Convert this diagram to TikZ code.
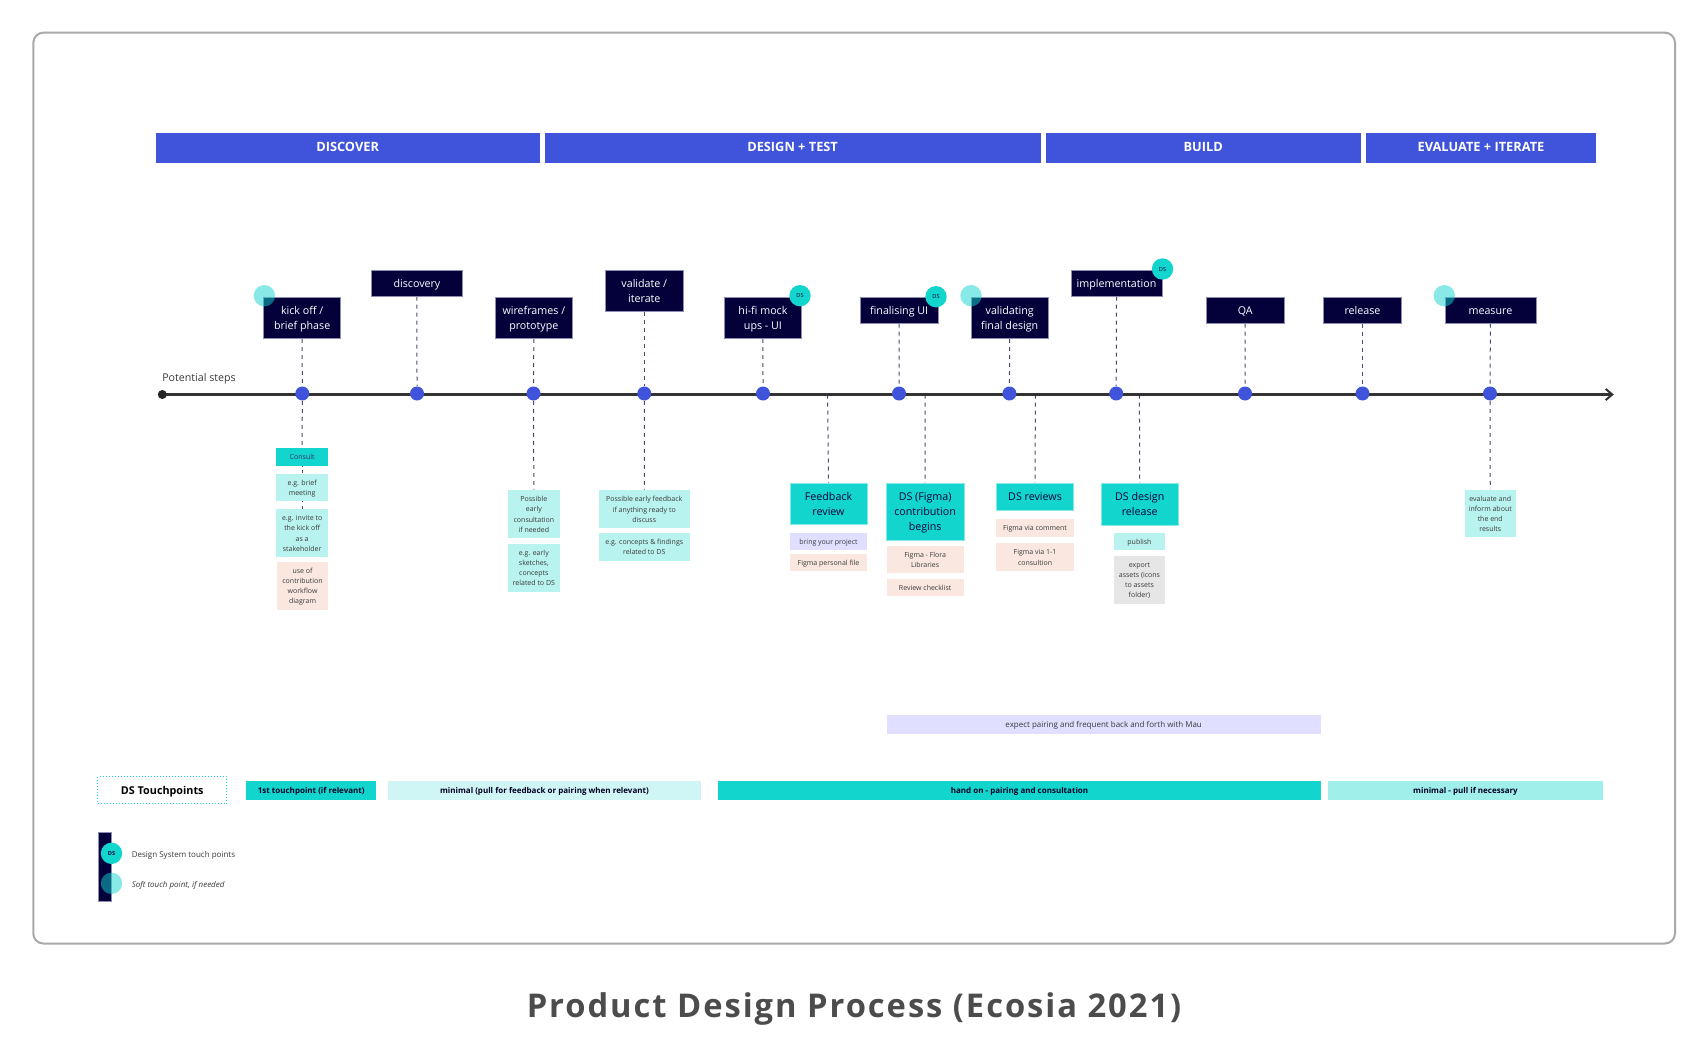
\documentclass[tikz,border=0pt]{standalone}
\usepackage{fontspec}
\setmainfont{Open Sans}
\newfontfamily\ttlfont[LetterSpace=6]{Open Sans}
\usetikzlibrary{arrows.meta}
\pgfdeclarelayer{under}
\pgfsetlayers{under,main}
\definecolor{navy}{HTML}{04003A}
\definecolor{navyedge}{HTML}{8F8DB5}
\definecolor{royal}{HTML}{4054DB}
\definecolor{teal}{HTML}{12D5CE}
\definecolor{mint}{HTML}{B8F3EF}
\definecolor{peach}{HTML}{FAE8E0}
\definecolor{lav}{HTML}{E0DFFF}
\definecolor{greybox}{HTML}{E6E6E6}
\definecolor{paleteal}{HTML}{CFF6F4}
\definecolor{midteal}{HTML}{A0EFEB}
\definecolor{framegrey}{HTML}{A9A9A9}
\definecolor{inktext}{HTML}{3A3A3A}
\definecolor{dashcol}{HTML}{4A4A70}
\tikzset{
  basebox/.style={inner sep=0pt,anchor=center},
  header/.style={basebox,fill=royal,text=white,font=\fontsize{6.4pt}{7.5pt}\selectfont\bfseries},
  stepbox/.style={basebox,fill=navy,draw=navyedge,line width=0.3pt,text=white,font=\fontsize{5.35pt}{7.6pt}\selectfont},
  bigteal/.style={basebox,fill=teal,draw=teal!50,line width=0.3pt,text=navy,font=\fontsize{5.35pt}{7.6pt}\selectfont},
  smallteal/.style={basebox,fill=teal,text=navy!80,font=\fontsize{3.5pt}{5.1pt}\selectfont},
  mintbox/.style={basebox,fill=mint,text=inktext,font=\fontsize{3.5pt}{5.1pt}\selectfont},
  peachbox/.style={basebox,fill=peach,text=inktext,font=\fontsize{3.5pt}{5.1pt}\selectfont},
  lavbox/.style={basebox,fill=lav,text=inktext,font=\fontsize{3.5pt}{5.1pt}\selectfont},
  greyb/.style={basebox,fill=greybox,text=inktext,font=\fontsize{3.5pt}{5.1pt}\selectfont},
  rowbold/.style={basebox,text=navy!60!black,font=\fontsize{4pt}{5pt}\selectfont\bfseries},
  frameb/.style={basebox,draw=framegrey,line width=1pt,rounded corners=5pt},
  tplabel/.style={basebox,draw=teal,densely dotted,line width=0.5pt,text=black,font=\fontsize{5.4pt}{6pt}\selectfont\bfseries},
  stopdot/.style={circle,fill=royal,inner sep=0pt,minimum size=7pt},
  softdot/.style={circle,fill=teal,fill opacity=0.5,inner sep=0pt,minimum size=10.7pt},
  dsdot/.style={circle,fill=teal,inner sep=0pt,minimum size=10.7pt,text=navy,font=\fontsize{2.8pt}{3pt}\selectfont},
  conn/.style={draw=dashcol,line width=0.5pt,dash pattern=on 2pt off 2pt},
  legendtext/.style={anchor=west,inner sep=0pt,text=inktext,font=\fontsize{4pt}{5pt}\selectfont},
}
\newcommand{\bxdrop}{-0.5pt}
% name, style, x1, y1, x2, y2, text
\newcommand{\bx}[7]{%
  \pgfmathsetmacro{\bxw}{(#5-#3)*0.5}%
  \pgfmathsetmacro{\bxh}{(#6-#4)*0.5}%
  \pgfmathsetmacro{\bxcx}{(#3+#5)/2}%
  \pgfmathsetmacro{\bxcy}{(#4+#6)/2}%
  \node[#2,minimum width=\bxw pt,minimum height=\bxh pt] (#1) at (\bxcx,\bxcy) {\raisebox{\bxdrop}[\height][\depth]{\begin{tabular}{@{}c@{}}#7\end{tabular}}};%
}
\begin{document}
\begin{tikzpicture}[x=0.5pt,y=-0.5pt]
\useasboundingbox (0,0) rectangle (1708,1054);
\begin{pgfonlayer}{under}
\fill[white] (0,0) rectangle (1708,1054);
\end{pgfonlayer}

\bx{frame}{frameb}{33.3}{32.7}{1675}{943.5}{}

% phases
\renewcommand{\bxdrop}{0pt}
\bx{phA}{header}{155.8}{133}{539.5}{163}{DISCOVER}
\bx{phB}{header}{544.7}{133}{1040.5}{163}{DESIGN + TEST}
\bx{phC}{header}{1045.7}{133}{1360.5}{163}{BUILD}
\bx{phD}{header}{1366}{133}{1596}{163}{EVALUATE + ITERATE}
\renewcommand{\bxdrop}{-0.5pt}

% step boxes
\bx{kick}{stepbox}{263.7}{297}{340.6}{338.7}{kick off /\\brief phase}
\bx{disc}{stepbox}{371.6}{270.2}{462.3}{296.2}{discovery}
\bx{wire}{stepbox}{495.2}{297}{572.5}{338.7}{wireframes /\\prototype}
\bx{vali}{stepbox}{605.6}{270.2}{683}{311.3}{validate /\\iterate}
\bx{hifi}{stepbox}{724.3}{297}{801.6}{338.7}{hi-fi mock\\ups - UI}
\bx{fina}{stepbox}{860.5}{297}{937.8}{323.3}{finalising UI}
\bx{vfin}{stepbox}{971}{297}{1048.4}{338.7}{validating\\final design}
\bx{impl}{stepbox}{1071}{270.2}{1162}{296.2}{implementation}
\bx{qa}{stepbox}{1206.6}{297}{1283.8}{323.3}{QA}
\bx{rele}{stepbox}{1323.7}{297}{1401.3}{323.3}{release}
\bx{meas}{stepbox}{1445}{297}{1535.8}{323.3}{measure}

% lower boxes
\bx{cons}{smallteal}{276.3}{448}{328}{465.5}{Consult}
\bx{brie}{mintbox}{276.3}{473.5}{328}{501}{e.g. brief\\meeting}
\bx{invi}{mintbox}{276.3}{509}{328}{556.8}{e.g. invite to\\the kick off\\as a\\stakeholder}
\bx{useo}{peachbox}{276.7}{561.5}{328.4}{609.5}{use of\\contribution\\workflow\\diagram}
\bx{poss}{mintbox}{508.2}{490}{559.5}{538}{Possible\\early\\consultation\\if needed}
\bx{earl}{mintbox}{508.2}{543.5}{559.5}{591.5}{e.g. early\\sketches,\\concepts\\related to DS}
\bx{feed}{mintbox}{599}{490}{689.5}{528}{Possible early feedback\\if anything ready to\\discuss}
\bx{conc}{mintbox}{599}{532.8}{689.5}{560.5}{e.g. concepts \& findings\\related to DS}
\bx{frev}{bigteal}{790}{483.2}{867}{524.5}{Feedback\\review}
\bx{brin}{lavbox}{790}{532.8}{867}{550.2}{bring your project}
\bx{fper}{peachbox}{790}{553.8}{867}{571.2}{Figma personal file}
\bx{dsfi}{bigteal}{886.5}{483.2}{963.8}{539.8}{DS (Figma)\\contribution\\begins}
\bx{flor}{peachbox}{886.5}{545.8}{963.8}{573.2}{Figma - Flora\\Libraries}
\bx{chec}{peachbox}{886.5}{578.8}{963.8}{596.2}{Review checklist}
\bx{dsre}{bigteal}{996.4}{483.2}{1073.7}{509.8}{DS reviews}
\bx{fcom}{peachbox}{996.4}{519.2}{1073.7}{536.5}{Figma via comment}
\bx{fone}{peachbox}{996.4}{543.2}{1073.7}{570.8}{Figma via 1-1\\consultion}
\bx{dsde}{bigteal}{1101.2}{483.2}{1178.2}{524.8}{DS design\\release}
\bx{publ}{mintbox}{1113.9}{532.8}{1165}{550.2}{publish}
\bx{expo}{greyb}{1113.9}{555.5}{1165}{603.5}{export\\assets (icons\\to assets\\folder)}
\bx{eval}{mintbox}{1464.5}{489.5}{1516}{537.2}{evaluate and\\inform about\\the end\\results}

% timeline stops
\coordinate (tstart) at (162.3,394.5);
\coordinate (tend) at (1613.8,394.5);
\coordinate (tapA) at (827.6,394.5);
\coordinate (tapB) at (925.2,394.5);
\coordinate (tapC) at (1035.4,394.5);
\coordinate (tapD) at (1139.4,394.5);
\node[stopdot] (d1) at (302.3,393.5) {};
\node[stopdot] (d2) at (417,393.5) {};
\node[stopdot] (d3) at (533.5,393.5) {};
\node[stopdot] (d4) at (644.3,393.5) {};
\node[stopdot] (d5) at (763,393.5) {};
\node[stopdot] (d6) at (899,393.5) {};
\node[stopdot] (d7) at (1009.4,393.5) {};
\node[stopdot] (d8) at (1116.2,393.5) {};
\node[stopdot] (d9) at (1245,393.5) {};
\node[stopdot] (d10) at (1362.5,393.5) {};
\node[stopdot] (d11) at (1490,393.5) {};

% connectors and axis, under the stops
\begin{pgfonlayer}{under}
\foreach \a/\b in {kick/d1,disc/d2,wire/d3,vali/d4,hifi/d5,fina/d6,vfin/d7,impl/d8,qa/d9,rele/d10,meas/d11}
  \draw[conn] (\a.south) -- (\b.north);
\foreach \a/\b in {d1/cons,d3/poss,d4/feed,d11/eval}
  \draw[conn] (\a.south) -- (\b.north);
\draw[conn,dash phase=-2.2pt] (cons.south) -- (brie.north);
\draw[conn,dash phase=-2.2pt] (brie.south) -- (invi.north);
\foreach \a/\b in {tapA/frev,tapB/dsfi,tapC/dsre,tapD/dsde}
  \draw[conn] (\a) -- (\b.north);
\draw[draw=black!80,line width=1.3pt,line cap=round,-{Straight Barb[length=3.3pt,width=5.6pt,line width=1pt]}] (tstart) -- (tend);
\end{pgfonlayer}
\node[circle,fill=black!85,inner sep=0pt,minimum size=4.5pt] (tdot) at (tstart) {};

\node[inner sep=0pt,anchor=west,text=inktext,font=\fontsize{5.33pt}{6pt}\selectfont] (pot) at (161.9,378.5) {Potential steps};

% badges
\node[softdot] (s1) at (264.4,295.7) {};
\node[softdot] (s2) at (971,295.7) {};
\node[softdot] (s3) at (1444.3,295.7) {};
\node[dsdot] (b1) at (800,295.7) {DS};
\node[dsdot] (b2) at (936,296.7) {DS};
\node[dsdot] (b3) at (1162.5,269) {DS};

% bars
\bx{pair}{lavbox,font=\fontsize{4pt}{5pt}\selectfont}{886.5}{714.5}{1320.8}{733.8}{expect pairing and frequent back and forth with Mau}
\renewcommand{\bxdrop}{-1pt}
\bx{tp}{tplabel}{97.8}{776.8}{226.8}{803.8}{DS Touchpoints}
\renewcommand{\bxdrop}{-0.5pt}
\bx{r1}{rowbold,fill=teal}{246.2}{780.5}{376.3}{799.8}{1st touchpoint (if relevant)}
\bx{r2}{rowbold,fill=paleteal}{387.6}{780.5}{701.3}{799.8}{minimal (pull for feedback or pairing when relevant)}
\bx{r3}{rowbold,fill=teal}{718.2}{780.5}{1320.8}{799.8}{hand on - pairing and consultation}
\bx{r4}{rowbold,fill=midteal}{1328.4}{780.5}{1602.6}{799.8}{minimal - pull if necessary}

% legend
\bx{legbar}{basebox,fill=navy,draw=navyedge,line width=0.2pt}{97.8}{831.7}{111.5}{901}{}
\node[dsdot,font=\fontsize{2.8pt}{3pt}\selectfont\bfseries] (l1) at (111.5,853.3) {DS};
\node[softdot] (l2) at (111.5,883.3) {};
\node[legendtext] (lt1) at (131.4,855.3) {Design System touch points};
\node[legendtext,font=\fontsize{4pt}{5pt}\selectfont\itshape] (lt2) at (131.4,885.3) {Soft touch point, if needed};

% title
\node[inner sep=0pt,text=black!70,font=\fontsize{16.35pt}{18pt}\ttlfont\bfseries] (title) at (854,1009) {Product Design Process (Ecosia 2021)};
\end{tikzpicture}
\end{document}
